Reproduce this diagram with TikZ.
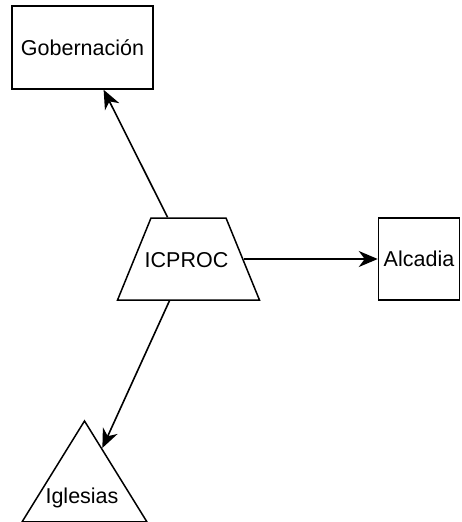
\documentclass[tikz,border=0pt]{standalone}
\usepackage{fontspec}
\setmainfont{Liberation Sans}
\usetikzlibrary{shapes.geometric,arrows.meta}
\begin{document}
\begin{tikzpicture}[x=1pt,y=-1pt,
  every node/.style={font=\fontsize{21.5}{24}\selectfont, inner sep=0pt},
  box/.style={draw, line width=1.5pt, rectangle},
  trap/.style={draw, line width=1.5pt, trapezium, trapezium angle=67.8,
    text height=0pt, text depth=0pt, inner xsep=37.5pt, inner ysep=41pt},
  tri/.style={draw, line width=1.5pt, isosceles triangle, shape border rotate=90,
    isosceles triangle stretches, minimum width=125pt, minimum height=101pt},
  arr/.style={line width=1.6pt, -{Stealth[length=19pt,width=16pt,inset=6pt]}}]
\useasboundingbox (0,0) rectangle (461,522);
\node[box, minimum width=141pt, minimum height=83pt] (gob) at (82.5,47.5) {Gobernación};
\node[trap, label={[xshift=-2pt,yshift=-1pt]center:ICPROC}] (icp) at (188.5,259) {};
\node[box, minimum width=81pt, minimum height=82pt] (alc) at (419,259) {Alcadia};
\node[tri, anchor=apex] (igl) at (84.5,419) {};
\node (igltext) at (82,498) {Iglesias};
\draw[arr] (icp) -- (gob);
\draw[arr] (icp) -- (alc);
\draw[arr] (icp) -- (igl);
\end{tikzpicture}
\end{document}
